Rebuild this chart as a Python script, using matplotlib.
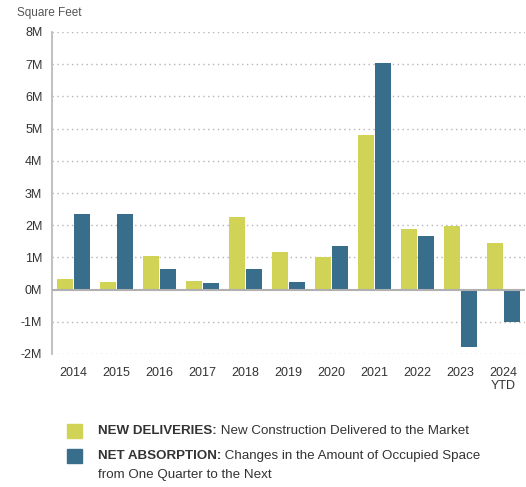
import matplotlib.pyplot as plt
from matplotlib.patches import Rectangle
from matplotlib import font_manager
import numpy as np

# colors
c_new = '#d0d356'
c_net = '#386d8c'
c_text = '#333333'

years = ['2014', '2015', '2016', '2017', '2018', '2019', '2020',
         '2021', '2022', '2023', '2024\nYTD']
new_deliveries = [0.34, 0.25, 1.05, 0.28, 2.27, 1.18, 1.02, 4.81, 1.89, 1.96, 1.46]
net_absorption = [2.36, 2.36, 0.65, 0.19, 0.65, 0.25, 1.34, 7.05, 1.68, -1.79, -1.01]
y_ticks = [-2, -1, 0, 1, 2, 3, 4, 5, 6, 7, 8]

names = [f.name for f in font_manager.fontManager.ttflist]
fam = 'Liberation Sans Narrow' if 'Liberation Sans Narrow' in names else 'Liberation Sans'
plt.rcParams['font.family'] = [fam, 'DejaVu Sans']

fig = plt.figure(figsize=[5.26, 4.87], dpi=100)
ax = fig.add_axes([52 / 526, 1 - 354 / 487, 473 / 526, 322 / 487])

x = np.arange(len(years))
w = 0.37
ax.bar(x - w / 2 - 0.01, new_deliveries, width=w, color=c_new, zorder=3)
ax.bar(x + w / 2 + 0.01, net_absorption, width=w, color=c_net, zorder=3)

ax.set_xlim(-0.5, len(years) - 0.5)
ax.set_ylim(-2, 8)
ax.set_yticks(y_ticks)
ax.set_yticklabels([f'{v}M' for v in y_ticks])
ax.set_xticks(x)
ax.set_xticklabels(years)
ax.tick_params(length=0, labelsize=9, colors=c_text)
ax.tick_params(axis='y', pad=7)
ax.tick_params(axis='x', pad=9)

for v in y_ticks:
    if v == 0:
        ax.axhline(0, color='#b0b0b0', linewidth=1.5, zorder=4)
    else:
        ax.axhline(v, color='#b5b5b5', linewidth=1, linestyle=(0, (1, 2.5)), zorder=1)

for s in ['top', 'right', 'bottom']:
    ax.spines[s].set_visible(False)
ax.spines['left'].set_color('#b5b5b5')
ax.spines['left'].set_linewidth(1.2)

fig.text(17 / 526, 1 - 13 / 487, 'Square Feet', fontsize=8.5, color='#555555',
         va='center', ha='left')

# legend
entries = [
    (c_new, 'NEW DELIVERIES:', ' New Construction Delivered to the Market', 431),
    (c_net, 'NET ABSORPTION:', ' Changes in the Amount of Occupied Space\nfrom One Quarter to the Next', 456),
]
fig.canvas.draw()
r = fig.canvas.get_renderer()
for col, bold, rest, yp in entries:
    fig.add_artist(Rectangle((67 / 526, 1 - (yp + 7) / 487), 15 / 526, 14 / 487,
                             transform=fig.transFigure, color=col))
    t = fig.text(98 / 526, 1 - yp / 487, bold, fontsize=9.6, weight='bold',
                 color=c_text, va='center', ha='left')
    bb = t.get_window_extent(r)
    lines = rest.split('\n')
    fig.text(bb.x1 / 526, 1 - yp / 487, lines[0], fontsize=9.6, color=c_text,
             va='center', ha='left')
    if len(lines) > 1:
        fig.text(98 / 526, 1 - (yp + 19) / 487, lines[1], fontsize=9.6,
                 color=c_text, va='center', ha='left')

plt.savefig('out.png', dpi=100)
